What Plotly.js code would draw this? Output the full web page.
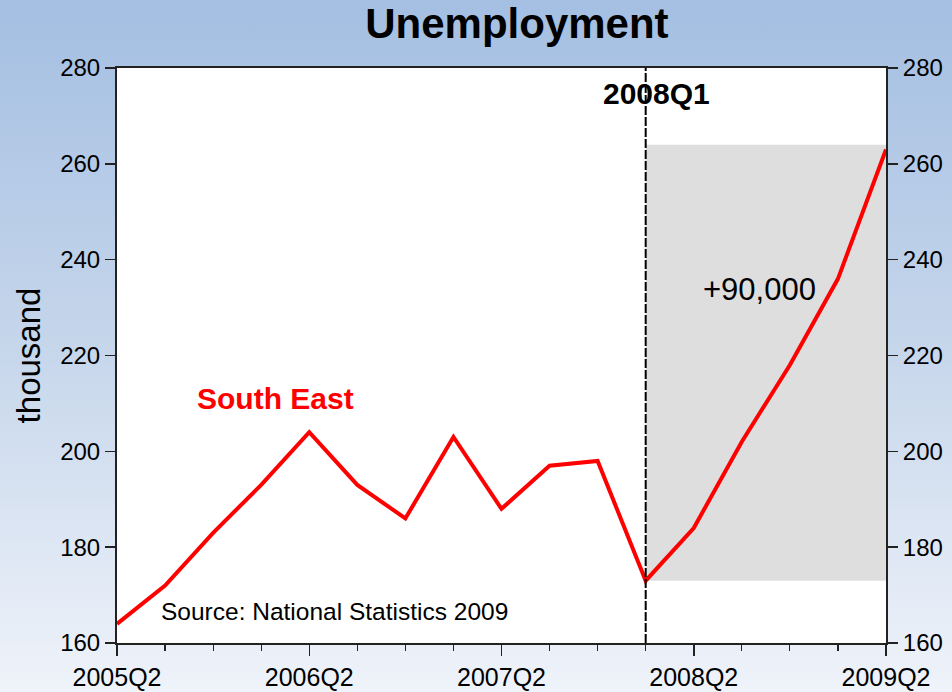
<!DOCTYPE html>
<html>
<head>
<meta charset="utf-8">
<script src="https://cdn.plot.ly/plotly-3.0.1.min.js"></script>
<style>
  html, body { margin: 0; padding: 0; }
  body { width: 952px; height: 692px; background: linear-gradient(to bottom, #a4bfe2 0%, #c6d6eb 50%, #eff3fa 100%); }
  #chart { width: 952px; height: 692px; }
</style>
</head>
<body>
<div id="chart"></div>
<script>
// Quarters and South East unemployment (thousand)
const quarters = ['2005Q2','2005Q3','2005Q4','2006Q1','2006Q2','2006Q3','2006Q4','2007Q1','2007Q2','2007Q3','2007Q4','2008Q1','2008Q2','2008Q3','2008Q4','2009Q1','2009Q2'];
const southEast = [164, 172, 183, 193, 204, 193, 186, 203, 188, 197, 198, 173, 184, 202, 218, 236, 263];
const tickLabels = ['2005Q2','2006Q2','2007Q2','2008Q2','2009Q2'];
const markerQuarter = '2008Q1';
const shadeLow = 173;
const shadeHigh = 264;
const yRange = [160, 280];

const xIdx = quarters.map((q, i) => i);
const tickIdx = tickLabels.map(t => quarters.indexOf(t));
const markIdx = quarters.indexOf(markerQuarter);
const lastIdx = quarters.length - 1;

const font = 'Liberation Sans, Arial, sans-serif';

const traces = [
  { x: xIdx, y: southEast, type: 'scatter', mode: 'lines', line: { color: '#ff0000', width: 4 }, hoverinfo: 'x+y', showlegend: false },
  { x: xIdx, y: southEast, type: 'scatter', mode: 'lines', yaxis: 'y2', line: { color: 'rgba(0,0,0,0)', width: 0 }, hoverinfo: 'skip', showlegend: false }
];

const layout = {
  width: 952, height: 692,
  paper_bgcolor: 'rgba(0,0,0,0)',
  plot_bgcolor: '#ffffff',
  margin: { l: 117, r: 66, t: 68, b: 49 },
  showlegend: false,
  title: { text: '<b>Unemployment</b>', font: { family: font, size: 42, color: '#000' }, x: 0.543, xanchor: 'center', y: 0.988, yanchor: 'top' },
  xaxis: {
    range: [0, lastIdx], tickmode: 'array', tickvals: tickIdx, ticktext: tickLabels,
    ticks: 'outside', ticklen: 11, tickwidth: 1.5, tickcolor: '#222',
    minor: { dtick: 1, tick0: 0, ticks: 'outside', ticklen: 6, tickwidth: 1.2, tickcolor: '#222', showgrid: false },
    showline: true, linecolor: '#222', linewidth: 2, mirror: true,
    showgrid: false, zeroline: false,
    tickfont: { family: font, size: 25, color: '#000' }
  },
  yaxis: {
    range: yRange, dtick: 20, ticks: 'outside', ticklen: 10, tickwidth: 1.5, tickcolor: '#222',
    showline: true, linecolor: '#222', linewidth: 2, showgrid: false, zeroline: false,
    tickfont: { family: font, size: 24, color: '#000' },
    title: { text: 'thousand', font: { family: font, size: 33, color: '#000' }, standoff: 10 }
  },
  yaxis2: {
    range: yRange, dtick: 20, overlaying: 'y', side: 'right', ticks: 'outside', ticklen: 10, tickwidth: 1.5, tickcolor: '#222',
    showline: true, linecolor: '#222', linewidth: 2, showgrid: false, zeroline: false,
    tickfont: { family: font, size: 24, color: '#000' }
  },
  shapes: [
    { type: 'rect', xref: 'x', yref: 'y', x0: markIdx, x1: lastIdx, y0: shadeLow, y1: shadeHigh, fillcolor: '#dedede', line: { width: 0 }, layer: 'below' },
    { type: 'line', xref: 'x', yref: 'paper', x0: markIdx, x1: markIdx, y0: 0, y1: 1, line: { color: '#000', width: 2, dash: '9px,2px' }, layer: 'above' }
  ],
  annotations: [
    { xref: 'x', yref: 'y', x: markIdx, y: 274.6, text: '<b>' + markerQuarter + '</b>', showarrow: false, xanchor: 'center', yanchor: 'middle', xshift: 11, font: { family: font, size: 30, color: '#000' } },
    { xref: 'x', yref: 'y', x: 3.29, y: 211.1, text: '<b>South East</b>', showarrow: false, xanchor: 'center', yanchor: 'middle', font: { family: font, size: 30, color: '#ff0000' } },
    { xref: 'x', yref: 'y', x: 13.36, y: 233.7, text: '+90,000', showarrow: false, xanchor: 'center', yanchor: 'middle', font: { family: font, size: 31, color: '#000' } },
    { xref: 'x', yref: 'y', x: 0.88, y: 166.5, text: 'Source: National Statistics 2009', showarrow: false, xanchor: 'left', yanchor: 'middle', font: { family: font, size: 24.5, color: '#000' } }
  ]
};

Plotly.newPlot('chart', traces, layout, { displayModeBar: false, staticPlot: true });
</script>
</body>
</html>
